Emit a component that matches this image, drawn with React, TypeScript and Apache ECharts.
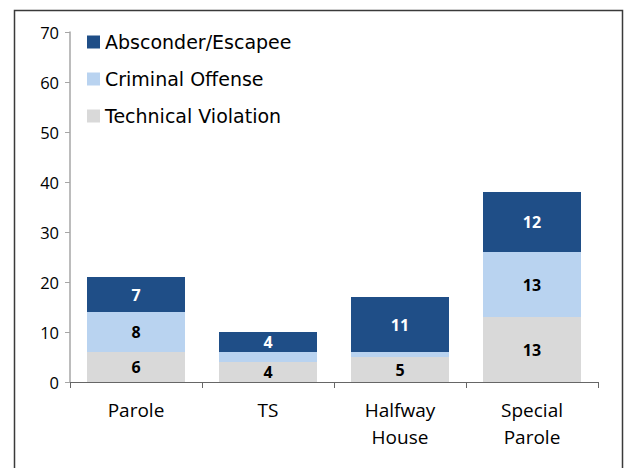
import React, { useEffect, useRef } from "react";
import * as echarts from "echarts";

const categories = ["Parole", "TS", "Halfway\nHouse", "Special\nParole"];
const technicalViolation = [6, 4, 5, 13];
const criminalOffense = [8, 2, 1, 13];
const absconderEscapee = [7, 4, 11, 12];
const seriesNames = ["Technical Violation", "Criminal Offense", "Absconder/Escapee"];
const yTicks = { min: 0, max: 70, interval: 10 };

const FONT = "Open Sans";

export default function App() {
  const ref = useRef<HTMLDivElement>(null);
  useEffect(() => {
    if (!ref.current) return;
    const chart = echarts.init(ref.current, null, { renderer: "svg" });
    const labelFmt = (p: any) => (p.value >= 3 ? String(p.value) : "");
    const mk = (name: string, data: number[], color: string, labelColor: string) => ({
      name,
      type: "bar",
      stack: "total",
      data,
      barWidth: 98,
      itemStyle: { color },
      label: {
        show: true,
        position: "inside",
        formatter: labelFmt,
        color: labelColor,
        fontWeight: "bold",
        fontSize: 16,
        fontFamily: FONT,
      },
    });
    chart.setOption({
      animation: false,
      backgroundColor: "#ffffff",
      textStyle: { fontFamily: FONT },
      graphic: [
        {
          type: "rect",
          shape: { x: 14.5, y: 10.5, width: 608, height: 470 },
          style: { fill: "none", stroke: "#3a3a3a", lineWidth: 1.5 },
          z: 0,
        },
      ],
      legend: {
        orient: "vertical",
        left: 82,
        top: 24,
        itemWidth: 13,
        itemHeight: 13,
        itemGap: 11,
        icon: "rect",
        data: ["Absconder/Escapee", "Criminal Offense", "Technical Violation"],
        textStyle: { fontSize: 19, lineHeight: 26, color: "#000", fontFamily: "DejaVu Sans" },
      },
      grid: { left: 70, top: 32, width: 528, height: 350, containLabel: false },
      xAxis: {
        type: "category",
        data: categories,
        axisLine: { lineStyle: { color: "#666", width: 1 } },
        axisTick: { show: true, length: 6, alignWithLabel: false, lineStyle: { color: "#666" } },
        axisLabel: { fontSize: 19, color: "#000", lineHeight: 27, margin: 14, fontFamily: FONT },
      },
      yAxis: {
        type: "value",
        min: yTicks.min,
        max: yTicks.max,
        interval: yTicks.interval,
        axisLine: { show: true, lineStyle: { color: "#a6a6a6", width: 1.5 } },
        axisTick: { show: true, length: 5, lineStyle: { color: "#a6a6a6" } },
        splitLine: { show: false },
        axisLabel: { fontSize: 16.5, color: "#000", margin: 11, fontFamily: FONT },
      },
      series: [
        mk(seriesNames[0], technicalViolation, "#d9d9d9", "#000"),
        mk(seriesNames[1], criminalOffense, "#b9d3f0", "#000"),
        mk(seriesNames[2], absconderEscapee, "#1f4e87", "#fff"),
      ],
    });
    return () => chart.dispose();
  }, []);
  return (
    <div
      ref={ref}
      style={{ position: "fixed", left: 0, top: 0, width: 628, height: 468 }}
    />
  );
}
